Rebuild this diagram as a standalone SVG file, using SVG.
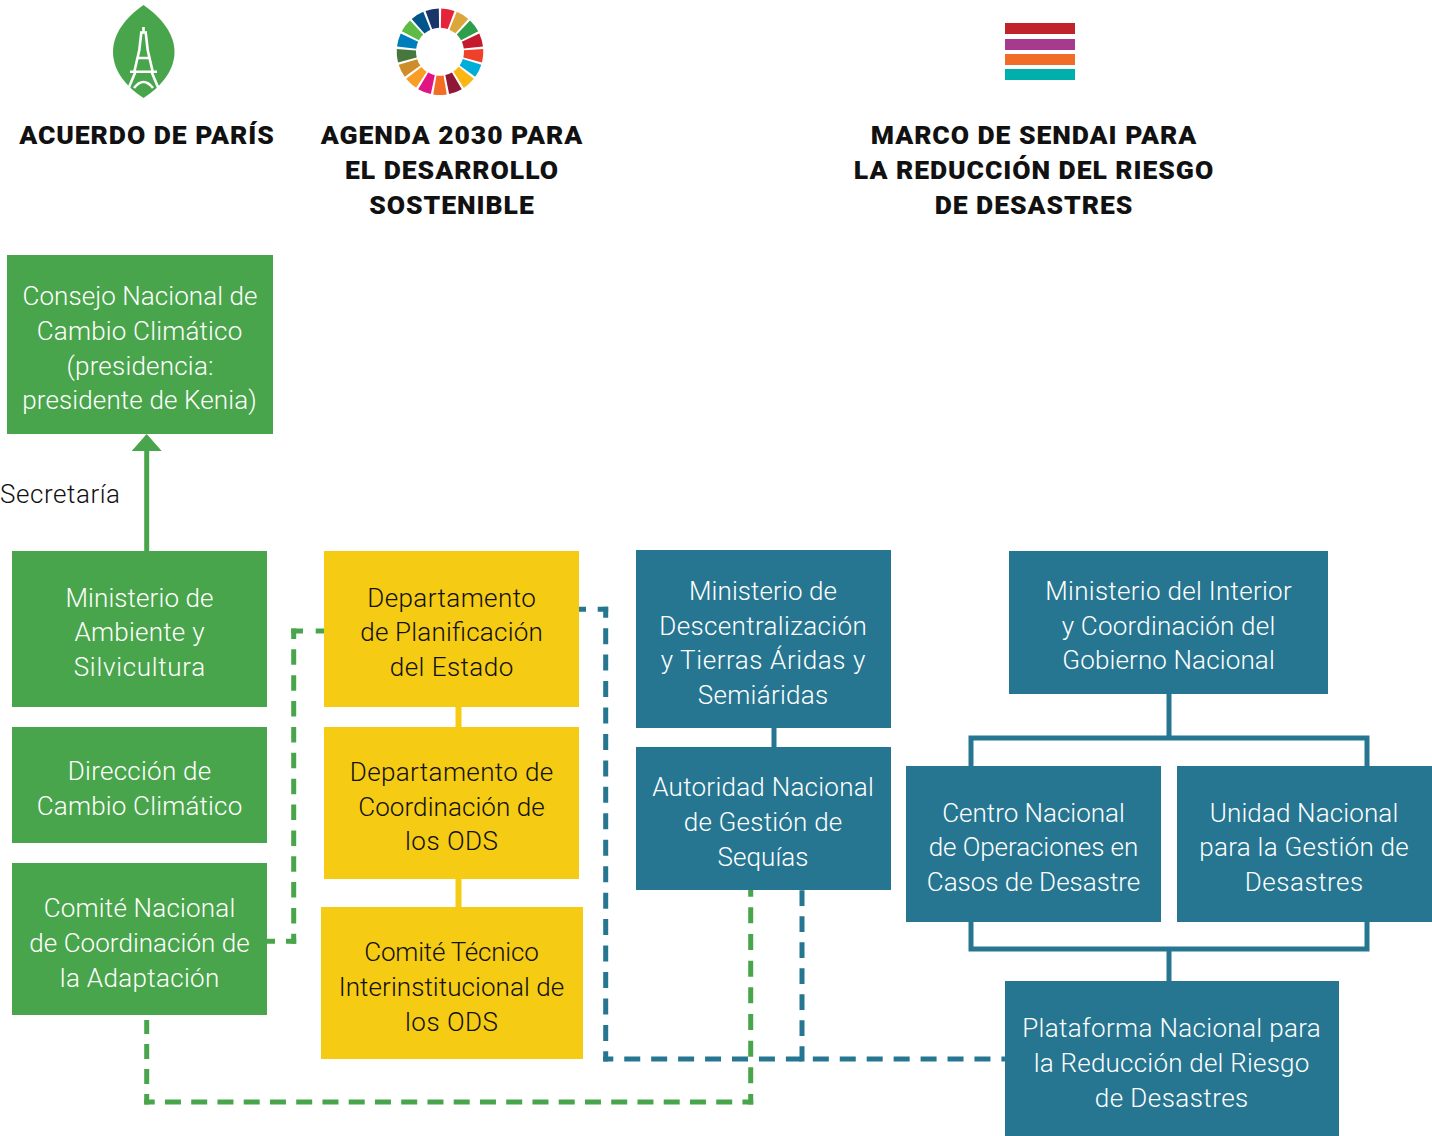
<svg xmlns="http://www.w3.org/2000/svg" width="1432" height="1136" viewBox="0 0 1432 1136">
<defs>
<style>
text{font-family:"Roboto","Liberation Sans",sans-serif;text-anchor:middle}
.t{font-size:26px;font-weight:300}
.w{fill:#fff}
.k{fill:#111}
.h{font-size:26.5px;font-weight:900;fill:#111;letter-spacing:.95px}
.g{fill:#49a54b}
.b{fill:#267691}
.y{fill:#f5cb13}
.sg,.dg{stroke:#49a54b;stroke-width:5;fill:none}
.sb,.db{stroke:#267691;stroke-width:5;fill:none}
.sy{stroke:#f5cb13;stroke-width:6;fill:none}
.e{stroke:#fff;fill:none;stroke-width:2.6}
</style>
<path id="wedge" d="M1.210-43.290A43.300 43.300 0 0 1 14.530-40.790L7.810-22.690A24 24 0 0 0 .84-23.990Z"/>
</defs>
<rect width="1432" height="1136" fill="#fff"/>
<g id="logo-paris">
<path class="g" d="M143.500 5C125 18 113 34 113 52C113 72 128 88 143.500 98C159 88 174.500 72 174.500 52C174.500 34 162 18 143.500 5Z"/>
<path class="e" d="M143.500 27V33M140 32.500H147M141.300 32.700L139.300 50L134.300 71.700M145.700 32.700L147.700 50L152.700 71.700M137.700 58H149.300M130 71.700H157M135.500 71.700L127 92M151.500 71.700L160 92M134 88Q143.500 76 153 88"/>
</g>
<g id="logo-sdg">
<g transform="translate(440 51.700)">
<use href="#wedge" fill="#e5243b"/>
<use href="#wedge" fill="#dda63a" transform="rotate(21.176)"/>
<use href="#wedge" fill="#2f9e4a" transform="rotate(42.353)"/>
<use href="#wedge" fill="#c5192d" transform="rotate(63.529)"/>
<use href="#wedge" fill="#ef402b" transform="rotate(84.706)"/>
<use href="#wedge" fill="#00aed9" transform="rotate(105.882)"/>
<use href="#wedge" fill="#fdb713" transform="rotate(127.059)"/>
<use href="#wedge" fill="#8f1838" transform="rotate(148.235)"/>
<use href="#wedge" fill="#f36d25" transform="rotate(169.412)"/>
<use href="#wedge" fill="#e11484" transform="rotate(190.588)"/>
<use href="#wedge" fill="#f99d26" transform="rotate(211.765)"/>
<use href="#wedge" fill="#cf8d2a" transform="rotate(232.941)"/>
<use href="#wedge" fill="#48773e" transform="rotate(254.118)"/>
<use href="#wedge" fill="#007dbc" transform="rotate(275.294)"/>
<use href="#wedge" fill="#5dbb46" transform="rotate(296.471)"/>
<use href="#wedge" fill="#02558b" transform="rotate(317.647)"/>
<use href="#wedge" fill="#1a3668" transform="rotate(338.824)"/>
</g>
</g>
<g id="logo-sendai">
<rect x="1005" y="23" width="70" height="11" fill="#c1232b"/>
<rect x="1005" y="39" width="70" height="11" fill="#a83a8e"/>
<rect x="1005" y="54" width="70" height="11" fill="#f06c27"/>
<rect x="1005" y="69" width="70" height="11" fill="#00aeac"/>
</g>
<g id="connectors">
<path class="sg" d="M146.700 551V448"/>
<path class="g" d="M146.700 434L161.700 451H131.700Z"/>
<path class="sy" d="M458.500 707V727M458.500 879V907"/>
<path class="sb" d="M774 728V747M1169 694V738M971 766V738H1367V766M971 922V949H1367V922M1169 949V981"/>
<path class="dg" stroke-dasharray="16 12.700" stroke-dashoffset="4.200" d="M291.200 631H324"/>
<path class="dg" stroke-dasharray="15.500 10.360" stroke-dashoffset="5" d="M293.700 628.500V943.800"/>
<path class="dg" stroke-dasharray="16 11" stroke-dashoffset="5.800" d="M296.200 941.300H267"/>
<path class="dg" stroke-dasharray="15 10" stroke-dashoffset="4.500" d="M146.700 1104.500V1020"/>
<path class="dg" stroke-dasharray="16 10.250" stroke-dashoffset="5.500" d="M144.200 1102H753.200"/>
<path class="dg" stroke-dasharray="16 10.670" stroke-dashoffset="5.500" d="M750.700 1104.500V890"/>
<path class="db" stroke-dasharray="16 11.700" stroke-dashoffset="5.500" d="M608.200 609.300H579"/>
<path class="db" stroke-dasharray="16 10.450" stroke-dashoffset="5.100" d="M605.700 606.800V1061.500"/>
<path class="db" stroke-dasharray="16 10.940" stroke-dashoffset="5.900" d="M603.200 1059H1005"/>
<path class="db" stroke-dasharray="15.700 10.300" stroke-dashoffset=".5" d="M802 1061.500V890"/>
</g>
<g id="h-paris"><text class="h" x="147" y="144">ACUERDO DE PARÍS</text></g>
<g id="h-agenda"><text class="h" x="452" y="144">AGENDA 2030 PARA</text><text class="h" x="452" y="179">EL DESARROLLO</text><text class="h" x="452" y="214">SOSTENIBLE</text></g>
<g id="h-sendai"><text class="h" x="1034" y="144">MARCO DE SENDAI PARA</text><text class="h" x="1034" y="179">LA REDUCCIÓN DEL RIESGO</text><text class="h" x="1034" y="214">DE DESASTRES</text></g>
<g id="n-consejo"><rect class="g" x="7" y="255" width="266" height="179"/>
<text class="t w" x="140" y="305" textLength="235">Consejo Nacional de</text><text class="t w" x="139.500" y="340" textLength="205.500">Cambio Climático</text><text class="t w" x="140" y="374.500" textLength="147">(presidencia:</text><text class="t w" x="139.500" y="409" textLength="234.500">presidente de Kenia)</text></g>
<g id="l-secretaria"><text class="t k" x="60" y="503" textLength="120">Secretaría</text></g>
<g id="n-ministerio-ambiente"><rect class="g" x="12" y="551" width="255" height="156"/>
<text class="t w" x="139.500" y="607" textLength="148">Ministerio de</text><text class="t w" x="139.500" y="641" textLength="130">Ambiente y</text><text class="t w" x="139.500" y="676" textLength="131.500">Silvicultura</text></g>
<g id="n-direccion"><rect class="g" x="12" y="727" width="255" height="116"/>
<text class="t w" x="139.500" y="780" textLength="143.500">Dirección de</text><text class="t w" x="139.500" y="815" textLength="205.500">Cambio Climático</text></g>
<g id="n-comite-adaptacion"><rect class="g" x="12" y="863" width="255" height="152"/>
<text class="t w" x="139.500" y="917" textLength="191.500">Comité Nacional</text><text class="t w" x="139.500" y="952" textLength="220.500">de Coordinación de</text><text class="t w" x="139.500" y="987" textLength="159.500">la Adaptación</text></g>
<g id="n-planificacion"><rect class="y" x="324" y="551" width="255" height="156"/>
<text class="t k" x="451.500" y="607" textLength="168.500">Departamento</text><text class="t k" x="451.500" y="641" textLength="182.500">de Planificación</text><text class="t k" x="451.500" y="676" textLength="123.500">del Estado</text></g>
<g id="n-coordinacion"><rect class="y" x="324" y="727" width="255" height="152"/>
<text class="t k" x="451.500" y="781" textLength="203.500">Departamento de</text><text class="t k" x="451.500" y="816" textLength="186.500">Coordinación de</text><text class="t k" x="451.500" y="850" textLength="93">los ODS</text></g>
<g id="n-comite-tecnico"><rect class="y" x="321" y="907" width="262" height="152"/>
<text class="t k" x="451.500" y="961" textLength="174.500">Comité Técnico</text><text class="t k" x="451.500" y="996" textLength="225.500">Interinstitucional de</text><text class="t k" x="451.500" y="1031" textLength="93">los ODS</text></g>
<g id="n-descentralizacion"><rect class="b" x="636" y="550" width="255" height="178"/>
<text class="t w" x="763" y="600" textLength="148">Ministerio de</text><text class="t w" x="763" y="635" textLength="207.500">Descentralización</text><text class="t w" x="763" y="669" textLength="204.500">y Tierras Áridas y</text><text class="t w" x="763" y="704" textLength="130.500">Semiáridas</text></g>
<g id="n-autoridad"><rect class="b" x="636" y="747" width="255" height="143"/>
<text class="t w" x="763" y="796" textLength="221.500">Autoridad Nacional</text><text class="t w" x="763" y="831" textLength="158.500">de Gestión de</text><text class="t w" x="763" y="866" textLength="91">Sequías</text></g>
<g id="n-interior"><rect class="b" x="1009" y="551" width="319" height="143"/>
<text class="t w" x="1168.500" y="600" textLength="246.500">Ministerio del Interior</text><text class="t w" x="1168.500" y="635" textLength="213.500">y Coordinación del</text><text class="t w" x="1168.500" y="669" textLength="212.500">Gobierno Nacional</text></g>
<g id="n-centro"><rect class="b" x="906" y="766" width="255" height="156"/>
<text class="t w" x="1033.500" y="822" textLength="182.500">Centro Nacional</text><text class="t w" x="1033.500" y="856" textLength="209.500">de Operaciones en</text><text class="t w" x="1033.500" y="891" textLength="213.500">Casos de Desastre</text></g>
<g id="n-unidad"><rect class="b" x="1177" y="766" width="255" height="156"/>
<text class="t w" x="1304" y="822" textLength="188.500">Unidad Nacional</text><text class="t w" x="1304" y="856" textLength="209.500">para la Gestión de</text><text class="t w" x="1304" y="891" textLength="118.500">Desastres</text></g>
<g id="n-plataforma"><rect class="b" x="1005" y="981" width="334" height="155"/>
<text class="t w" x="1171.500" y="1037" textLength="298.500">Plataforma Nacional para</text><text class="t w" x="1171.500" y="1072" textLength="275.500">la Reducción del Riesgo</text><text class="t w" x="1171.500" y="1107" textLength="153.500">de Desastres</text></g>
</svg>
